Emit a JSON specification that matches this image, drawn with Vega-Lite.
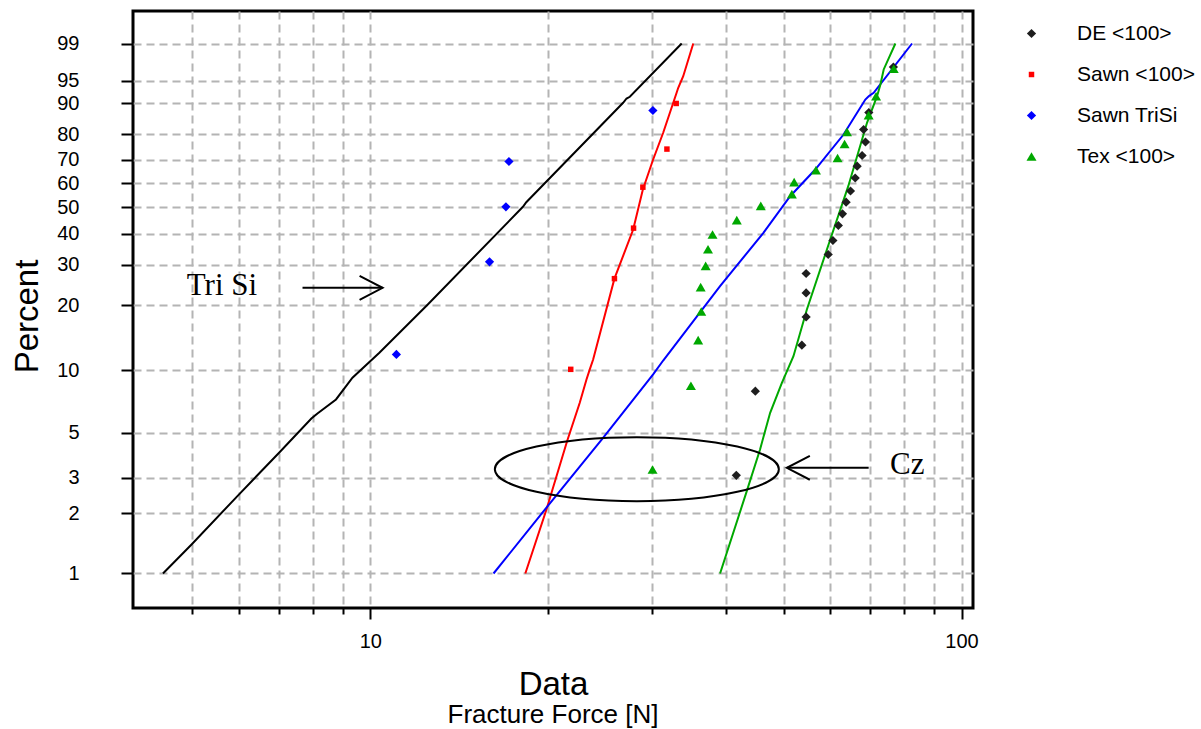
{
  "$schema": "https://vega.github.io/schema/vega-lite/v6.json",
  "width": 840,
  "height": 597,
  "autosize": {"type": "none"},
  "padding": {"left": 133, "top": 11, "right": 228, "bottom": 121},
  "background": "white",
  "config": {
    "view": {"stroke": "black", "strokeWidth": 3},
    "font": "Liberation Sans",
    "axis": {"labelFont": "Liberation Sans", "titleFont": "Liberation Sans"}
  },
  "title": {
    "text": "Fracture Force [N]",
    "orient": "bottom",
    "anchor": "middle",
    "frame": "group",
    "fontSize": 26,
    "fontWeight": "normal",
    "font": "Liberation Sans",
    "color": "black",
    "offset": 1
  },
  "datasets": {
    "points": [
      {"series": "DE <100>", "force": 41.6, "percent": 3.08},
      {"series": "DE <100>", "force": 44.8, "percent": 7.94},
      {"series": "DE <100>", "force": 53.7, "percent": 13.13},
      {"series": "DE <100>", "force": 54.6, "percent": 17.72},
      {"series": "DE <100>", "force": 54.6, "percent": 22.7},
      {"series": "DE <100>", "force": 54.6, "percent": 27.56},
      {"series": "DE <100>", "force": 59.5, "percent": 33.08},
      {"series": "DE <100>", "force": 60.6, "percent": 37.64},
      {"series": "DE <100>", "force": 61.9, "percent": 42.97},
      {"series": "DE <100>", "force": 62.9, "percent": 47.43},
      {"series": "DE <100>", "force": 63.8, "percent": 52.06},
      {"series": "DE <100>", "force": 64.9, "percent": 56.7},
      {"series": "DE <100>", "force": 66.1, "percent": 62.19},
      {"series": "DE <100>", "force": 66.6, "percent": 67.2},
      {"series": "DE <100>", "force": 67.9, "percent": 71.68},
      {"series": "DE <100>", "force": 68.8, "percent": 77.12},
      {"series": "DE <100>", "force": 68.3, "percent": 81.8},
      {"series": "DE <100>", "force": 69.7, "percent": 87.43},
      {"series": "DE <100>", "force": 76.7, "percent": 97.01},
      {"series": "Sawn <100>", "force": 21.83, "percent": 10.1},
      {"series": "Sawn <100>", "force": 25.88, "percent": 26.2},
      {"series": "Sawn <100>", "force": 27.88, "percent": 42.0},
      {"series": "Sawn <100>", "force": 28.91, "percent": 58.3},
      {"series": "Sawn <100>", "force": 31.75, "percent": 74.3},
      {"series": "Sawn <100>", "force": 32.92, "percent": 90.0},
      {"series": "Sawn TriSi", "force": 11.07, "percent": 11.88},
      {"series": "Sawn TriSi", "force": 15.91, "percent": 30.87},
      {"series": "Sawn TriSi", "force": 16.96, "percent": 50.2},
      {"series": "Sawn TriSi", "force": 17.16, "percent": 69.18},
      {"series": "Sawn TriSi", "force": 30.06, "percent": 88.03},
      {"series": "Tex <100>", "force": 30.02, "percent": 3.29},
      {"series": "Tex <100>", "force": 34.86, "percent": 8.43},
      {"series": "Tex <100>", "force": 35.86, "percent": 13.86},
      {"series": "Tex <100>", "force": 36.29, "percent": 18.77},
      {"series": "Tex <100>", "force": 36.21, "percent": 24.06},
      {"series": "Tex <100>", "force": 36.92, "percent": 29.7},
      {"series": "Tex <100>", "force": 37.26, "percent": 34.75},
      {"series": "Tex <100>", "force": 37.92, "percent": 39.72},
      {"series": "Tex <100>", "force": 41.68, "percent": 44.97},
      {"series": "Tex <100>", "force": 45.76, "percent": 50.6},
      {"series": "Tex <100>", "force": 51.65, "percent": 55.36},
      {"series": "Tex <100>", "force": 52.11, "percent": 60.41},
      {"series": "Tex <100>", "force": 56.73, "percent": 65.51},
      {"series": "Tex <100>", "force": 61.71, "percent": 70.64},
      {"series": "Tex <100>", "force": 63.42, "percent": 76.33},
      {"series": "Tex <100>", "force": 64.02, "percent": 80.97},
      {"series": "Tex <100>", "force": 69.66, "percent": 86.61},
      {"series": "Tex <100>", "force": 71.7, "percent": 91.82},
      {"series": "Tex <100>", "force": 76.8, "percent": 96.79}
    ],
    "fits": [
      {"fit": "Tri Si", "force": 4.46, "percent": 1},
      {"fit": "Tri Si", "force": 4.99, "percent": 1.4},
      {"fit": "Tri Si", "force": 5.96, "percent": 2.43},
      {"fit": "Tri Si", "force": 7.01, "percent": 3.98},
      {"fit": "Tri Si", "force": 7.95, "percent": 5.85},
      {"fit": "Tri Si", "force": 8.14, "percent": 6.19},
      {"fit": "Tri Si", "force": 8.75, "percent": 7.24},
      {"fit": "Tri Si", "force": 9.33, "percent": 9.21},
      {"fit": "Tri Si", "force": 10.36, "percent": 12.1},
      {"fit": "Tri Si", "force": 12.51, "percent": 20.17},
      {"fit": "Tri Si", "force": 18.12, "percent": 50.2},
      {"fit": "Tri Si", "force": 18.36, "percent": 52.06},
      {"fit": "Tri Si", "force": 26.77, "percent": 90.17},
      {"fit": "Tri Si", "force": 27.13, "percent": 91.27},
      {"fit": "Tri Si", "force": 27.48, "percent": 91.68},
      {"fit": "Tri Si", "force": 33.63, "percent": 99},
      {"fit": "Sawn <100>", "force": 18.29, "percent": 1},
      {"fit": "Sawn <100>", "force": 19.86, "percent": 2.085},
      {"fit": "Sawn <100>", "force": 21.52, "percent": 4.53},
      {"fit": "Sawn <100>", "force": 22.61, "percent": 6.98},
      {"fit": "Sawn <100>", "force": 23.21, "percent": 9.04},
      {"fit": "Sawn <100>", "force": 23.51, "percent": 10.09},
      {"fit": "Sawn <100>", "force": 23.82, "percent": 11.25},
      {"fit": "Sawn <100>", "force": 25.88, "percent": 26.2},
      {"fit": "Sawn <100>", "force": 27.84, "percent": 41.51},
      {"fit": "Sawn <100>", "force": 28.91, "percent": 57.32},
      {"fit": "Sawn <100>", "force": 30.09, "percent": 70.01},
      {"fit": "Sawn <100>", "force": 31.29, "percent": 80.61},
      {"fit": "Sawn <100>", "force": 32.97, "percent": 92.61},
      {"fit": "Sawn <100>", "force": 33.18, "percent": 93.67},
      {"fit": "Sawn <100>", "force": 33.83, "percent": 95.74},
      {"fit": "Sawn <100>", "force": 35.18, "percent": 99},
      {"fit": "Tex <100>", "force": 16.16, "percent": 1},
      {"fit": "Tex <100>", "force": 19.86, "percent": 2.13},
      {"fit": "Tex <100>", "force": 24.76, "percent": 4.71},
      {"fit": "Tex <100>", "force": 30.09, "percent": 9.55},
      {"fit": "Tex <100>", "force": 31.29, "percent": 11.12},
      {"fit": "Tex <100>", "force": 39.05, "percent": 24.3},
      {"fit": "Tex <100>", "force": 46.23, "percent": 40.32},
      {"fit": "Tex <100>", "force": 51.31, "percent": 54.53},
      {"fit": "Tex <100>", "force": 56.57, "percent": 65.8},
      {"fit": "Tex <100>", "force": 63.17, "percent": 79.97},
      {"fit": "Tex <100>", "force": 68.76, "percent": 91.02},
      {"fit": "Tex <100>", "force": 69.66, "percent": 91.82},
      {"fit": "Tex <100>", "force": 71.03, "percent": 92.61},
      {"fit": "Tex <100>", "force": 82.49, "percent": 99},
      {"fit": "DE <100>", "force": 39.05, "percent": 1},
      {"fit": "DE <100>", "force": 43.33, "percent": 2.57},
      {"fit": "DE <100>", "force": 45.63, "percent": 4.13},
      {"fit": "DE <100>", "force": 47.46, "percent": 6.24},
      {"fit": "DE <100>", "force": 49.68, "percent": 8.71},
      {"fit": "DE <100>", "force": 51.97, "percent": 11.66},
      {"fit": "DE <100>", "force": 54.76, "percent": 19.16},
      {"fit": "DE <100>", "force": 59.98, "percent": 37.98},
      {"fit": "DE <100>", "force": 64.34, "percent": 58.72},
      {"fit": "DE <100>", "force": 69.21, "percent": 84.14},
      {"fit": "DE <100>", "force": 71.97, "percent": 91.82},
      {"fit": "DE <100>", "force": 72.92, "percent": 94.31},
      {"fit": "DE <100>", "force": 73.86, "percent": 96.7},
      {"fit": "DE <100>", "force": 77.3, "percent": 99}
    ],
    "notes": [
      {"label": "Tri Si", "force": 4.892, "percent": 22.19},
      {"label": "Cz", "force": 75.7, "percent": 3.108}
    ],
    "arrows": [
      {"name": "Tri Si", "tail": 7.68, "tip": 10.49, "percent": 23.91},
      {"name": "Cz", "tail": 69.66, "tip": 50.65, "percent": 3.354}
    ],
    "circled": [
      {"name": "Cz", "force": 28.24, "percent": 3.3}
    ]
  },
  "layer": [
    {
      "data": {"name": "fits"},
      "transform": [{"calculate": "log(-log(1 - datum.percent / 100))", "as": "w"}],
      "mark": {"type": "line", "strokeWidth": 2},
      "encoding": {
        "x": {
          "field": "force",
          "type": "quantitative",
          "scale": {"type": "log", "domain": [3.9686, 104.58], "nice": false},
          "axis": {
            "title": "Data",
            "titleFontSize": 33,
            "titleFontWeight": "normal",
            "titleColor": "black",
            "titleY": 86,
            "titleBaseline": "alphabetic",
            "values": [5, 6, 7, 8, 9, 10, 20, 30, 40, 50, 60, 70, 80, 90, 100],
            "labelExpr": "datum.value == 10 ? '10' : (datum.value == 100 ? '100' : '')",
            "labelFontSize": 20,
            "labelColor": "black",
            "labelPadding": 12,
            "labelFlush": false,
            "labelOverlap": false,
            "tickSize": {"condition": {"test": "datum.value == 10 || datum.value == 100", "value": 11}, "value": 6},
            "tickColor": "black",
            "tickWidth": 2,
            "domain": false,
            "grid": true,
            "gridColor": "#b4b4b4",
            "gridDash": [8, 5],
            "gridWidth": 2
          }
        },
        "y": {
          "field": "w",
          "type": "quantitative",
          "scale": {"domain": [-4.99901, 1.90292], "nice": false, "zero": false},
          "axis": {
            "title": "Percent",
            "titleFontSize": 33,
            "titleFontWeight": "normal",
            "titleColor": "black",
            "titleAngle": -90,
            "titleX": -96,
            "titleY": 305,
            "titleAlign": "center",
            "titleBaseline": "alphabetic",
            "values": [-4.600149, -3.901938, -3.491317, -2.970195, -2.250367, -1.49994, -1.03093, -0.671727, -0.366513, -0.087422, 0.185627, 0.475885, 0.834032, 1.097189, 1.52718],
            "labelExpr": "format(100 * (1 - exp(-exp(datum.value))), '.0f')",
            "labelFontSize": 20,
            "labelColor": "black",
            "labelPadding": 20,
            "labelFlush": false,
            "labelOverlap": false,
            "tickSize": 34,
            "tickDash": [12, 60],
            "tickColor": "black",
            "tickWidth": 2,
            "domain": false,
            "grid": true,
            "gridColor": "#b4b4b4",
            "gridDash": [8, 5],
            "gridWidth": 2
          }
        },
        "detail": {"field": "fit", "type": "nominal"},
        "color": {
          "condition": [
            {"test": "datum.fit === 'Sawn <100>'", "value": "#ff0000"},
            {"test": "datum.fit === 'Tex <100>'", "value": "#0000ff"},
            {"test": "datum.fit === 'DE <100>'", "value": "#00a800"}
          ],
          "value": "#000000"
        }
      }
    },
    {
      "data": {"name": "points"},
      "transform": [{"calculate": "log(-log(1 - datum.percent / 100))", "as": "w"}],
      "mark": {"type": "point", "filled": true, "opacity": 1},
      "encoding": {
        "x": {"field": "force", "type": "quantitative"},
        "y": {"field": "w", "type": "quantitative"},
        "color": {
          "field": "series",
          "type": "nominal",
          "scale": {"domain": ["DE <100>", "Sawn <100>", "Sawn TriSi", "Tex <100>"], "range": ["#1e1e1e", "#ff0000", "#0000ff", "#00a800"]},
          "legend": {
            "title": null,
            "orient": "none",
            "legendX": 888,
            "legendY": 12,
            "padding": 0,
            "labelFontSize": 21,
            "labelFont": "Liberation Sans",
            "labelColor": "black",
            "labelOffset": 35,
            "rowPadding": 19,
            "symbolSize": 50
          }
        },
        "shape": {
          "field": "series",
          "type": "nominal",
          "scale": {"domain": ["DE <100>", "Sawn <100>", "Sawn TriSi", "Tex <100>"], "range": ["diamond", "square", "diamond", "triangle-up"]}
        },
        "size": {
          "field": "series",
          "type": "nominal",
          "scale": {"type": "ordinal", "domain": ["DE <100>", "Sawn <100>", "Sawn TriSi", "Tex <100>"], "range": [85, 30, 85, 100]},
          "legend": null
        }
      }
    },
    {
      "data": {"name": "circled"},
      "transform": [{"calculate": "log(-log(1 - datum.percent / 100))", "as": "w"}],
      "mark": {
        "type": "point",
        "filled": false,
        "color": "black",
        "strokeWidth": 2,
        "opacity": 1,
        "size": 80656,
        "shape": "M -1 0 C -1 -0.1245 -0.5523 -0.2254 0 -0.2254 C 0.5523 -0.2254 1 -0.1245 1 0 C 1 0.1245 0.5523 0.2254 0 0.2254 C -0.5523 0.2254 -1 0.1245 -1 0 Z"
      },
      "encoding": {
        "x": {"field": "force", "type": "quantitative"},
        "y": {"field": "w", "type": "quantitative"}
      }
    },
    {
      "data": {"name": "arrows"},
      "transform": [{"calculate": "log(-log(1 - datum.percent / 100))", "as": "w"}],
      "mark": {"type": "rule", "color": "black", "strokeWidth": 2},
      "encoding": {
        "x": {"field": "tail", "type": "quantitative"},
        "x2": {"field": "tip"},
        "y": {"field": "w", "type": "quantitative"}
      }
    },
    {
      "data": {"name": "arrows"},
      "transform": [{"calculate": "log(-log(1 - datum.percent / 100))", "as": "w"}],
      "mark": {"type": "point", "filled": false, "color": "black", "strokeWidth": 2, "opacity": 1, "size": 2116},
      "encoding": {
        "x": {"field": "tip", "type": "quantitative"},
        "y": {"field": "w", "type": "quantitative"},
        "shape": {
          "condition": {"test": "datum.name === 'Cz'", "value": "M 1 -0.52 L 0 0 L 1 0.52"},
          "value": "M -1 -0.52 L 0 0 L -1 0.52"
        }
      }
    },
    {
      "data": {"name": "notes"},
      "transform": [{"calculate": "log(-log(1 - datum.percent / 100))", "as": "w"}],
      "mark": {"type": "text", "font": "Liberation Serif", "fontSize": 31, "align": "left", "baseline": "alphabetic", "color": "black"},
      "encoding": {
        "x": {"field": "force", "type": "quantitative"},
        "y": {"field": "w", "type": "quantitative"},
        "text": {"field": "label", "type": "nominal"}
      }
    }
  ]
}
